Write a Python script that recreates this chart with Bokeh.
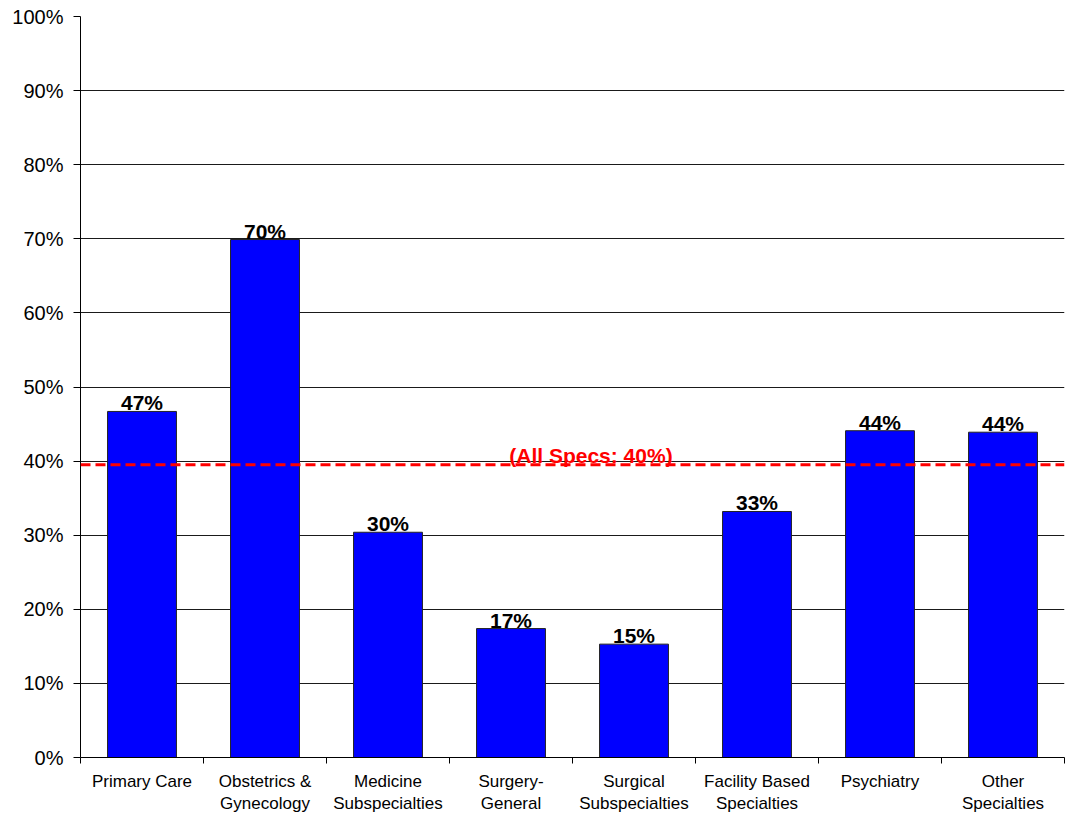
from bokeh.plotting import figure
from bokeh.models import (ColumnDataSource, FixedTicker, PrintfTickFormatter,
                          Range1d, Span, Label, LabelSet)
from bokeh.core.properties import value
from bokeh.embed import file_html
from bokeh.resources import INLINE

# Share of physicians by specialty group
categories = [
    "Primary Care",
    "Obstetrics &\nGynecology",
    "Medicine\nSubspecialties",
    "Surgery-\nGeneral",
    "Surgical\nSubspecialties",
    "Facility Based\nSpecialties",
    "Psychiatry",
    "Other\nSpecialties",
]
shares = [46.7, 69.9, 30.4, 17.4, 15.3, 33.2, 44.1, 43.9]
all_specs = 39.5
y_ticks = [0, 10, 20, 30, 40, 50, 60, 70, 80, 90, 100]

FONT = "Liberation Sans"

n = len(categories)
centers = [i + 0.5 for i in range(n)]
source = ColumnDataSource(dict(
    x=centers,
    top=shares,
    label=[f"{v:.0f}%" for v in shares],
))

p = figure(
    width=1065, height=816,
    x_range=Range1d(0, n), y_range=Range1d(0, 100),
    output_backend="svg", toolbar_location=None,
    min_border_left=80, min_border_right=1,
    min_border_top=16, min_border_bottom=59,
)
p.outline_line_color = None
p.background_fill_color = "white"
p.border_fill_color = "white"

# bars
p.vbar(x="x", top="top", width=0.56, source=source,
       fill_color="#0000FF", line_color="#222222", line_width=1)

# value labels over bars
p.add_layout(LabelSet(
    x="x", y="top", text="label", source=source,
    text_align="center", text_baseline="alphabetic", y_offset=1,
    text_font=value(FONT), text_font_size=value("21px"),
    text_font_style=value("bold"), text_color=value("black"),
))

# all-specialties reference line
p.add_layout(Span(location=all_specs, dimension="width",
                  line_color="#FF0000", line_width=3, line_dash="10 5"))
p.add_layout(Label(
    x=4.15, y=all_specs, text=f"(All Specs: {all_specs:.0f}%)",
    text_align="center", text_baseline="alphabetic", y_offset=9,
    text_font=FONT, text_font_size="21px", text_font_style="bold",
    text_color="#FF0000",
))

# y axis
p.yaxis.ticker = FixedTicker(ticks=y_ticks, minor_ticks=[])
p.yaxis.formatter = PrintfTickFormatter(format="%d%%")
p.yaxis.major_label_text_font = FONT
p.yaxis.major_label_text_font_size = "20px"
p.yaxis.major_label_text_color = "black"
p.yaxis.major_tick_out = 7
p.yaxis.major_tick_in = 0
p.yaxis.major_label_standoff = 10
p.yaxis.axis_line_color = "black"
p.yaxis.major_tick_line_color = "black"

# x axis: labels at bar centres, tick marks at category boundaries
p.xaxis.ticker = FixedTicker(ticks=centers, minor_ticks=list(range(n + 1)))
p.xaxis.major_label_overrides = {c: lab for c, lab in zip(centers, categories)}
p.xaxis.major_label_text_font = FONT
p.xaxis.major_label_text_font_size = "17px"
p.xaxis.major_label_text_color = "black"
p.xaxis.major_tick_out = 0
p.xaxis.major_tick_in = 0
p.xaxis.minor_tick_out = 6
p.xaxis.minor_tick_in = 0
p.xaxis.minor_tick_line_color = "black"
p.xaxis.major_label_standoff = 8
p.xaxis.axis_line_color = "black"

# grid
p.xgrid.grid_line_color = None
p.ygrid.grid_line_color = "#1a1a1a"
p.ygrid.grid_line_width = 1

open("out.html", "w").write(file_html(p, INLINE))
